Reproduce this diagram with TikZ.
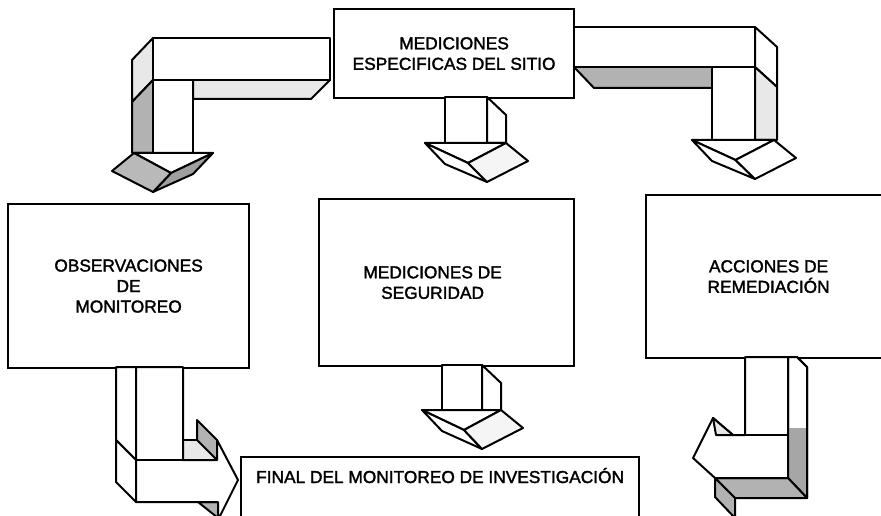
\documentclass[tikz,border=0pt]{standalone}
\usepackage{fontspec}
\setmainfont{Liberation Sans}
\newfontfamily\boxfont{Liberation Sans}[FakeBold=1.8]
\usetikzlibrary{positioning}
\tikzset{
  box/.style={draw,line width=2.2pt,fill=white,align=center,inner sep=0pt,anchor=north west},
  rim/.style={line width=2pt,line join=round},
  facew/.style={rim,draw,fill=white},
  facel/.style={rim,draw,fill=gray!18},
  faced/.style={rim,draw,fill=gray!60},
}
\begin{document}
\begin{tikzpicture}[x=1pt,y=-1pt,font=\boxfont\fontsize{17.3}{20.5}\selectfont]
\useasboundingbox (0,0) rectangle (881,516);
% boxes
\node[box,minimum width=240pt,minimum height=89pt] (sitio) at (333,8) {MEDICIONES\\ESPECIFICAS DEL SITIO};
\node[box,minimum width=241pt,minimum height=164pt] (obs) at (7,203) {OBSERVACIONES\\DE\\MONITOREO};
\node[box,minimum width=255pt,minimum height=167pt] (seg) at (318,198) {};
\node[align=center] (segtxt) at ([xshift=-14pt]seg.center) {MEDICIONES DE\\SEGURIDAD};
\node[box,minimum width=245pt,minimum height=163pt] (rem) at (645,194) {ACCIONES DE\\REMEDIACIÓN};
\node[box,minimum width=398pt,minimum height=90pt] (fin) at (240,456) {};
\node[anchor=base] (fintxt) at ([yshift=-27pt]fin.north) {FINAL DEL MONITOREO DE INVESTIGACIÓN};
% top left arrow
\draw[facel] (153,38)--(132,60)--(132,102)--(153,80)--cycle;
\draw[faced] (153,80)--(132,102)--(132,153)--(153,153)--cycle;
\draw[facel] (193,80)--(330,80)--(311,99)--(193,99)--cycle;
\draw[facew] (330,38)--(153,38)--(153,153)--(193,153)--(193,80)--(330,80)--cycle;
\draw[rim] (153,80)--(193,80);
% top right arrow
\draw[facew] (755,27)--(777,47)--(777,87)--(755,67)--cycle;
\draw[facel] (755,67)--(777,87)--(777,140)--(755,140)--cycle;
\draw[faced] (574,67)--(712,67)--(712,88)--(594,88)--cycle;
\draw[facew] (574,27)--(755,27)--(755,140)--(712,140)--(712,67)--(574,67)--cycle;
\draw[rim] (712,67)--(755,67);
% middle arrows
\foreach \xa/\ya/\yb/\w in {445/97/143/42, 442/365/410/40}{
  \draw[facew] ({\xa+\w},\ya)--({\xa+\w+19},{\ya+18})--({\xa+\w+19},\yb)--({\xa+\w},\yb)--cycle;
  \draw[facew] (\xa,\ya) rectangle ({\xa+\w},\yb);
}
% heads pointing down
\foreach \xa/\yb/\w/\s/\fa/\fb in {193/153/40/-1/gray!55/gray!75, 712/140/43/1/white/white,
    445/143/42/1/gray!8/white, 442/410/40/1/gray!8/white}{
  \draw[facew] ({\xa-(\s)*20},\yb)--({\xa+(\s)*(\w+19)},\yb)--({\xa+(\s)*(\w/2+2)},{\yb+20})--cycle;
  \draw[rim,draw,fill=\fb] ({\xa-(\s)*20},\yb)--({\xa+(\s)*(\w/2+2)},{\yb+20})--({\xa+(\s)*\w},{\yb+39})--(\xa,{\yb+21})--cycle;
  \draw[rim,draw,fill=\fa] ({\xa+(\s)*(\w/2+2)},{\yb+20})--({\xa+(\s)*(\w+19)},\yb)--({\xa+(\s)*(\w+41)},{\yb+18})--({\xa+(\s)*\w},{\yb+39})--cycle;
}
% bottom left arrow
\draw[facew] (116,367)--(116,440)--(136,460)--(136,367)--cycle;
\draw[facew] (116,440)--(136,460)--(136,502)--(116,482)--cycle;
\draw[facel] (183,440) rectangle (217,460);
\draw[faced] (197,420)--(217,440)--(217,460)--(197,440)--cycle;
\draw[faced] (198,502)--(218,502)--(218,518)--cycle;
\draw[facew] (136,367)--(183,367)--(183,460)--(217,460)--(217,440)--(238,480)--(218,520)--(218,502)--(136,502)--cycle;
\draw[rim] (136,460)--(183,460);
% bottom right arrow
\draw[facew] (788,357)--(797,357)--(807,367)--(807,498)--(788,478)--cycle;
\fill[gray!70] (788,428)--(807,428)--(807,498)--(788,478)--cycle;
\draw[rim] (797,357)--(807,367)--(807,498)--(788,478);
\draw[faced] (715,478)--(788,478)--(807,498)--(735,498)--cycle;
\draw[faced] (715,478)--(735,498)--(735,518)--(715,497)--cycle;
\draw[facew] (745,357)--(788,357)--(788,478)--(715,478)--(693,458)--(713,418)--(733,435)--(745,435)--cycle;
\draw[facel] (713,418)--(733,435)--(716,435)--cycle;
\draw[rim] (745,435)--(788,435);
\end{tikzpicture}
\end{document}
